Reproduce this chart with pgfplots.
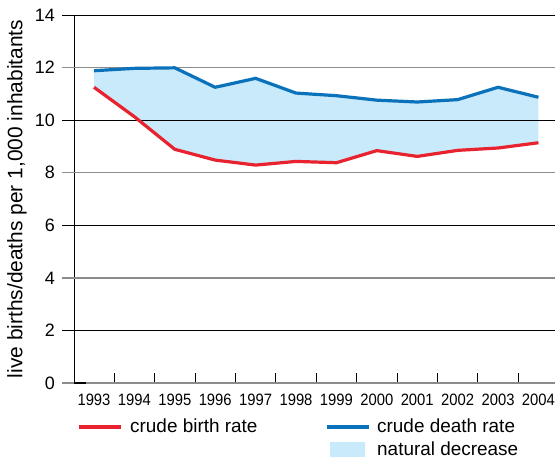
\documentclass[border=0pt]{standalone}
\usepackage{fontspec}
\setmainfont{Liberation Sans}
\usepackage{pgfplots}
\pgfplotsset{compat=1.18}
\usepgfplotslibrary{fillbetween}
\definecolor{birth}{HTML}{E8222E}
\definecolor{death}{HTML}{0A72BA}
\definecolor{fillc}{HTML}{C8EAFA}
\definecolor{gridg}{HTML}{8C8C8C}
\newcommand\sx[1]{\scalebox{0.9}[1]{#1}}
\begin{document}
\begin{tikzpicture}
\begin{axis}[
  at={(74bp,75bp)}, anchor=south west,
  scale only axis, width=481bp, height=368bp,
  xmin=1992.505, xmax=2004.41, ymin=0, ymax=14,
  clip=false,
  axis x line*=bottom, axis y line*=left,
  x axis line style={draw=none},
  y axis line style={-, black, line width=0.8bp},
  tick align=inside,
  major tick length=0pt,
  minor tick length=10bp,
  every minor tick/.append style={black, line width=0.8bp},
  xtick={1993,1994,1995,1996,1997,1998,1999,2000,2001,2002,2003,2004},
  xticklabels={\sx{1993},\sx{1994},\sx{1995},\sx{1996},\sx{1997},\sx{1998},\sx{1999},\sx{2000},\sx{2001},\sx{2002},\sx{2003},\sx{2004}},
  minor xtick={1993.5,1994.5,1995.5,1996.5,1997.5,1998.5,1999.5,2000.5,2001.5,2002.5,2003.5},
  ytick={0,2,4,6,8,10,12,14},
  /pgf/number format/assume math mode=true,
  yticklabel style={font=\fontsize{18}{18}\selectfont, inner sep=0pt, anchor=east, xshift=-19bp},
  xticklabel style={font=\fontsize{16.5}{16.5}\selectfont, inner sep=0pt, anchor=north, yshift=-11bp},
  ylabel={live births/deaths per 1,000 inhabitants},
  every axis y label/.style={at={(axis description cs:-0.1185,0.5)}, rotate=90, anchor=center, font=\fontsize{21}{21}\selectfont},
]
\draw[black, line width=0.8bp] ([xshift=-12bp]axis cs:1992.505,14) -- (axis cs:2004.41,14);
\draw[gridg, line width=1.3bp] ([xshift=-12bp]axis cs:1992.505,12) -- (axis cs:2004.41,12);
\draw[black, line width=0.8bp] ([xshift=-12bp]axis cs:1992.505,10) -- (axis cs:2004.41,10);
\draw[gridg, line width=1.3bp] ([xshift=-12bp]axis cs:1992.505,8) -- (axis cs:2004.41,8);
\draw[black, line width=0.8bp] ([xshift=-12bp]axis cs:1992.505,6) -- (axis cs:2004.41,6);
\draw[gridg, line width=1.3bp] ([xshift=-12bp]axis cs:1992.505,4) -- (axis cs:2004.41,4);
\draw[black, line width=0.8bp] ([xshift=-12bp]axis cs:1992.505,2) -- (axis cs:2004.41,2);
\draw[gridg, line width=1.3bp] ([xshift=-12bp]axis cs:1992.505,0) -- (axis cs:2004.41,0);
\draw[black, line width=1.2bp] (axis cs:1992.505,0) -- ([xshift=12bp]axis cs:1992.505,0);
\addplot[name path=D, death, line width=3.2bp] coordinates {
(1993,11.88) (1994,11.97) (1995,11.99) (1996,11.25) (1997,11.59) (1998,11.03)
(1999,10.93) (2000,10.76) (2001,10.69) (2002,10.78) (2003,11.25) (2004,10.87)};
\addplot[name path=B, birth, line width=3.2bp] coordinates {
(1993,11.25) (1994,10.13) (1995,8.89) (1996,8.48) (1997,8.29) (1998,8.43)
(1999,8.38) (2000,8.84) (2001,8.62) (2002,8.85) (2003,8.94) (2004,9.14)};
\addplot[fillc, draw=none] fill between[of=D and B];
\end{axis}
\draw[birth, line width=4.5bp] (79bp,31bp) -- (121bp,31bp);
\node[anchor=base west, inner sep=0pt, font=\fontsize{19}{19}\selectfont] at (130bp,26bp) {crude birth rate};
\draw[death, line width=4.5bp] (327bp,31bp) -- (369bp,31bp);
\node[anchor=base west, inner sep=0pt, font=\fontsize{19}{19}\selectfont] at (377bp,26bp) {crude death rate};
\fill[fillc] (330bp,1bp) rectangle (365bp,16bp);
\node[anchor=base west, inner sep=0pt, font=\fontsize{19}{19}\selectfont] at (377bp,3bp) {natural decrease};
\pgfresetboundingbox
\useasboundingbox (0,0) rectangle (555bp,458bp);
\end{tikzpicture}
\end{document}
